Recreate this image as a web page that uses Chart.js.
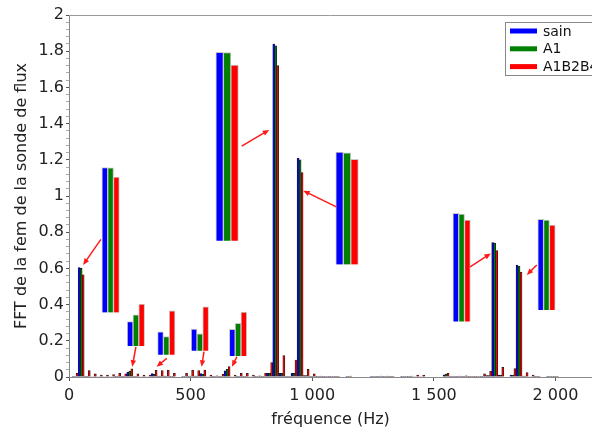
<!DOCTYPE html>
<html>
<head>
<meta charset="utf-8">
<script src="https://cdn.jsdelivr.net/npm/chart.js@4"></script>
<style>
html, body { margin: 0; padding: 0; background: #fff; }
#wrap { width: 592px; height: 429px; }
</style>
</head>
<body>
<div id="wrap"><canvas id="fft"></canvas></div>
<script>
// FFT bins (Hz) and amplitudes for the three machines
const freqs = [25, 50, 75, 100, 125, 150, 175, 200, 225, 250, 275, 300, 325, 350, 375, 400, 425, 475, 500, 525, 550, 575, 600, 625, 650, 675, 700, 725, 750, 775, 800, 825, 850, 875, 900, 925, 950, 975, 1000, 1025, 1050, 1075, 1100, 1150, 1250, 1275, 1300, 1325, 1375, 1400, 1425, 1450, 1550, 1575, 1600, 1625, 1650, 1675, 1700, 1725, 1750, 1775, 1825, 1850, 1875, 1900, 1925, 1975, 2000];
const sain = [0.004, 0.605, 0.004, 0.003, 0.003, 0.003, 0.003, 0.004, 0.004, 0.026, 0.004, 0.003, 0.003, 0.019, 0.005, 0.005, 0.004, 0.004, 0.005, 0.005, 0.019, 0.003, 0.002, 0.004, 0.034, 0.003, 0.004, 0.004, 0.003, 0.002, 0.004, 0.02, 1.84, 0.02, 0.002, 0.02, 1.208, 0.008, 0.004, 0.002, 0.002, 0.002, 0.002, 0.002, 0.002, 0.002, 0.002, 0.002, 0.002, 0.002, 0.003, 0.003, 0.012, 0.002, 0.002, 0.002, 0.002, 0.002, 0.004, 0.008, 0.742, 0.01, 0.01, 0.619, 0.005, 0.003, 0.002, 0.002, 0.002];
const a1 = [0.004, 0.6, 0.004, 0.003, 0.003, 0.003, 0.003, 0.004, 0.004, 0.033, 0.004, 0.003, 0.003, 0.015, 0.005, 0.005, 0.004, 0.004, 0.005, 0.005, 0.015, 0.003, 0.002, 0.004, 0.042, 0.003, 0.004, 0.004, 0.003, 0.002, 0.004, 0.02, 1.83, 0.02, 0.002, 0.02, 1.2, 0.008, 0.004, 0.002, 0.002, 0.002, 0.002, 0.002, 0.002, 0.002, 0.002, 0.002, 0.002, 0.002, 0.003, 0.003, 0.016, 0.002, 0.002, 0.002, 0.002, 0.002, 0.004, 0.008, 0.74, 0.01, 0.01, 0.612, 0.005, 0.003, 0.002, 0.002, 0.002];
const a1b2b4 = [0.02, 0.565, 0.035, 0.017, 0.01, 0.01, 0.013, 0.02, 0.017, 0.045, 0.017, 0.01, 0.01, 0.037, 0.035, 0.038, 0.02, 0.02, 0.038, 0.035, 0.038, 0.01, 0.007, 0.015, 0.057, 0.01, 0.02, 0.02, 0.01, 0.007, 0.02, 0.079, 1.72, 0.118, 0.004, 0.094, 1.13, 0.042, 0.017, 0.005, 0.004, 0.004, 0.004, 0.005, 0.004, 0.005, 0.005, 0.004, 0.004, 0.005, 0.01, 0.01, 0.02, 0.004, 0.005, 0.007, 0.004, 0.004, 0.017, 0.031, 0.698, 0.053, 0.046, 0.58, 0.024, 0.01, 0.004, 0.004, 0.004];

// magnified copies of the peaks: where they sit, their base and the three tops
const insetFreq = [171, 275, 400, 538, 695, 650, 1143, 1614, 1963];
const insetBase = [0.357, 0.171, 0.123, 0.145, 0.116, 0.753, 0.622, 0.306, 0.37];
const insetSain = [1.157, 0.306, 0.25, 0.265, 0.263, 1.794, 1.243, 0.904, 0.871];
const insetA1 = [1.155, 0.343, 0.223, 0.238, 0.296, 1.792, 1.239, 0.9, 0.867];
const insetA1b2b4 = [1.105, 0.403, 0.366, 0.388, 0.359, 1.724, 1.203, 0.867, 0.84];

// arrows: [from Hz, from value, to Hz, to value]
const arrows = [
    [131, 0.76, 58, 0.619],
    [275, 0.167, 260, 0.057],
    [402, 0.103, 360, 0.057],
    [555, 0.14, 545, 0.057],
    [690, 0.112, 670, 0.057],
    [710, 1.276, 823, 1.365],
    [1099, 0.94, 963, 1.029],
    [1649, 0.609, 1734, 0.683],
    [1923, 0.619, 1882, 0.564]
];

const xTicks = [0, 500, 1000, 1500, 2000];

const wideInsets = [5, 6];
const font = 'DejaVu Sans';

function mainSet(label, values, color) {
    return {
        label: label,
        data: freqs.map((f, i) => ({ x: f, y: values[i] })),
        backgroundColor: color,
        borderColor: 'rgba(0,0,0,0.9)',
        borderWidth: 0.7,
        barThickness: 2,
        stack: label
    };
}

function insetSet(label, tops, color, wide) {
    const pts = [];
    insetFreq.forEach((f, i) => {
        if (wideInsets.includes(i) === wide) pts.push({ x: f, y: [insetBase[i], tops[i]] });
    });
    return {
        label: label,
        data: pts,
        backgroundColor: color,
        borderColor: '#c8c8c8',
        borderWidth: 1,
        barThickness: wide ? 7.5 : 5.8,
        stack: label
    };
}

const decor = {
    id: 'decor',
    afterDatasetsDraw(chart) {
        const { ctx, chartArea } = chart;
        const xs = chart.scales.x, ys = chart.scales.y;
        ctx.save();
        ctx.strokeStyle = '#ff1a1a';
        ctx.fillStyle = '#ff1a1a';
        ctx.lineWidth = 1.5;
        arrows.forEach(a => {
            const x1 = xs.getPixelForValue(a[0]), y1 = ys.getPixelForValue(a[1]);
            const x2 = xs.getPixelForValue(a[2]), y2 = ys.getPixelForValue(a[3]);
            const ang = Math.atan2(y2 - y1, x2 - x1);
            const h = 7;
            ctx.beginPath();
            ctx.moveTo(x1, y1);
            ctx.lineTo(x2 - 5 * Math.cos(ang), y2 - 5 * Math.sin(ang));
            ctx.stroke();
            ctx.beginPath();
            ctx.moveTo(x2, y2);
            ctx.lineTo(x2 - h * Math.cos(ang - 0.4), y2 - h * Math.sin(ang - 0.4));
            ctx.lineTo(x2 - h * Math.cos(ang + 0.4), y2 - h * Math.sin(ang + 0.4));
            ctx.closePath();
            ctx.fill();
        });

        // top frame line
        ctx.strokeStyle = '#999';
        ctx.lineWidth = 1;
        ctx.beginPath();
        ctx.moveTo(chartArea.left, chartArea.top + 0.5);
        ctx.lineTo(chartArea.right, chartArea.top + 0.5);
        ctx.stroke();

        // legend box
        const lx = chartArea.right - 87, ly = chartArea.top + 7;
        ctx.fillStyle = '#fff';
        ctx.fillRect(lx, ly, 100, 53);
        ctx.strokeStyle = '#888';
        ctx.strokeRect(lx + 0.5, ly + 0.5, 100, 53);
        ctx.font = '14px ' + font;
        ctx.textBaseline = 'middle';
        chart.data.datasets.slice(0, 3).forEach((ds, i) => {
            const cy = ly + 9 + i * 17.8;
            ctx.fillStyle = ds.backgroundColor;
            ctx.fillRect(lx + 5, cy - 2.5, 27, 5);
            ctx.fillStyle = '#111';
            ctx.fillText(ds.label, lx + 38, cy + 1);
        });
        ctx.restore();
    }
};

new Chart(document.getElementById('fft'), {
    type: 'bar',
    data: {
        datasets: [
            mainSet('sain', sain, '#0000ff'),
            mainSet('A1', a1, '#008000'),
            mainSet('A1B2B4', a1b2b4, '#ff0000'),
            insetSet('sain', insetSain, '#0000ff', false),
            insetSet('A1', insetA1, '#008000', false),
            insetSet('A1B2B4', insetA1b2b4, '#ff0000', false),
            insetSet('sain', insetSain, '#0000ff', true),
            insetSet('A1', insetA1, '#008000', true),
            insetSet('A1B2B4', insetA1b2b4, '#ff0000', true)
        ]
    },
    options: {
        responsive: true,
        maintainAspectRatio: false,
        animation: false,
        layout: { padding: { top: 15, right: 0, left: 0, bottom: 0 } },
        plugins: {
            legend: { display: false },
            tooltip: { enabled: false }
        },
        scales: {
            x: {
                type: 'linear',
                min: 0,
                max: 2150,
                offset: false,
                grid: { drawOnChartArea: false, tickLength: 4, color: '#555', offset: false },
                border: { color: '#888' },
                afterBuildTicks: s => { s.ticks = xTicks.map(v => ({ value: v })); },
                ticks: {
                    padding: 5,
                    color: '#222',
                    font: { family: font, size: 16 },
                    callback: v => v >= 1000 ? Math.floor(v / 1000) + ' ' + String(v % 1000).padStart(3, '0') : String(v)
                },
                title: {
                    display: true,
                    text: 'fréquence (Hz)',
                    color: '#222',
                    font: { family: font, size: 16 },
                    padding: { top: 0, bottom: 0 }
                },
                afterFit: s => { s.height = 52; }
            },
            y: {
                min: 0,
                max: 2,
                stacked: false,
                grid: {
                    drawOnChartArea: false,
                    tickLength: 3,
                    color: ctx => (Math.abs(ctx.tick.value * 5 - Math.round(ctx.tick.value * 5)) < 1e-6) ? '#555' : '#aaa'
                },
                border: { color: '#888' },
                ticks: {
                    stepSize: 0.04,
                    autoSkip: false,
                    padding: 2,
                    color: '#222',
                    font: { family: font, size: 16 },
                    callback: v => (Math.abs(v * 5 - Math.round(v * 5)) < 1e-6) ? String(Math.round(v * 10) / 10) : ''
                },
                title: {
                    display: true,
                    text: 'FFT de la fem de la sonde de flux',
                    color: '#222',
                    font: { family: font, size: 16 },
                    padding: { top: 12, bottom: 0 }
                },
                afterFit: s => { s.width = 69; }
            }
        }
    },
    plugins: [decor]
});
</script>
</body>
</html>
